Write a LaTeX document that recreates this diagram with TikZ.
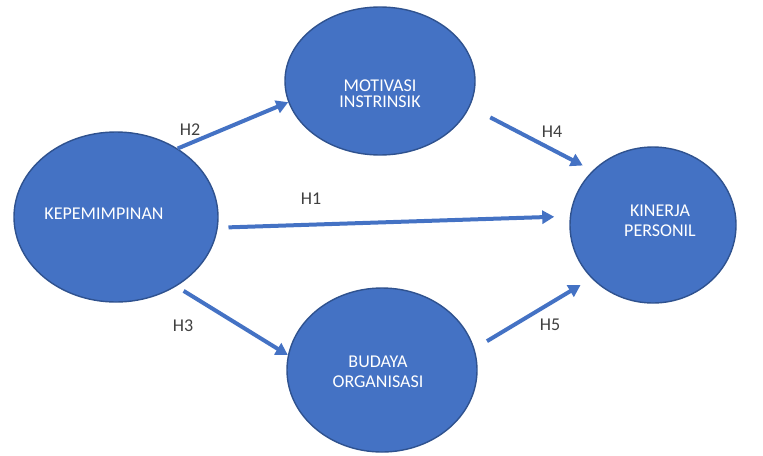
\documentclass[tikz,border=0pt]{standalone}
\usepackage{fontspec}
\setmainfont{Carlito}
\usetikzlibrary{shapes.geometric,arrows.meta}
\definecolor{biru}{HTML}{4472C4}
\definecolor{birutua}{HTML}{2F528F}
\definecolor{abu}{HTML}{404040}

\begin{document}
\begin{tikzpicture}[x=0.5pt,y=-0.5pt]
	\tikzstyle{every node}=[font=\fontsize{9}{10}\selectfont]
	\tikzstyle{variabel}=[ellipse, draw=birutua, line width=0.7pt, fill=biru, inner sep=0pt]
	\tikzstyle{teks}=[text=white, align=center, inner sep=0pt]
	\tikzstyle{panah}=[biru, line width=2pt, -{Triangle[length=6pt,width=6.5pt]}]
	\tikzstyle{hipotesis}=[text=abu]
	\useasboundingbox (0,0) rectangle (763,455);
	
	\node[variabel, minimum width=102pt, minimum height=85pt, label={[teks, xshift=-6pt, yshift=1.5pt]center:KEPEMIMPINAN}] (kep) at (116,217) {};
	\node[variabel, minimum width=95pt, minimum height=74pt, label={[teks, font=\fontsize{9}{8}\selectfont, yshift=-6.5pt]center:MOTIVASI\\INSTRINSIK}] (mot) at (380,81) {};
	\node[variabel, minimum width=83pt, minimum height=78pt, label={[teks, xshift=3.5pt, yshift=2pt]center:KINERJA\\PERSONIL}] (kin) at (653,225) {};
	\node[variabel, minimum width=95pt, minimum height=82pt, label={[teks, xshift=-2pt, yshift=-1pt]center:BUDAYA\\ORGANISASI}] (bud) at (382,370) {};
	
	% hubungan antar variabel
	\draw[panah] (kep.48) -- (mot.193);
	\draw[panah, shorten <=11.5pt, shorten >=5.5pt] (mot.344) -- (kin.138);
	\draw[panah, shorten <=5.3pt, shorten >=7.8pt] (kep.-6) -- (kin.174);
	\draw[panah, shorten <=4.3pt] (kep.-49) -- (bud.171);
	\draw[panah, shorten <=7.3pt, shorten >=6.4pt] (bud.13) -- (kin.221);
	
	\node[hipotesis] (h1) at (311,199) {H1};
	\node[hipotesis] (h2) at (190,130) {H2};
	\node[hipotesis] (h3) at (183,326) {H3};
	\node[hipotesis] (h4) at (552,132) {H4};
	\node[hipotesis] (h5) at (550,325) {H5};
\end{tikzpicture}
\end{document}
